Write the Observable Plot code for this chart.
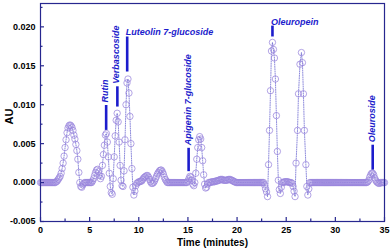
<!DOCTYPE html>
<html>
<head>
<meta charset="utf-8">
<script src="https://cdn.jsdelivr.net/npm/d3@7"></script>
<script src="https://cdn.jsdelivr.net/npm/@observablehq/plot@0.6"></script>
<style>
  html, body { margin: 0; padding: 0; background: #fff; }
  #chart { width: 392px; height: 252px; }
</style>
</head>
<body>
<div id="chart"></div>
<script>
// ---- data (time in minutes, absorbance in AU) ----
const trace = [
  [0,0],[0.1,0],[0.2,0],[0.3,0],[0.4,0],[0.5,0],[0.6,0],[0.7,0],[0.8,0],[0.9,0],[1,0],[1.1,0],[1.2,0],[1.3,0],[1.4,0],[1.5,0],
  [1.6,0.0001],[1.7,0.0002],[1.8,0.0004],[1.9,0.0006],[2,0.0008],[2.1,0.0012],[2.2,0.0018],[2.3,0.0025],[2.4,0.0034],[2.5,0.0045],
  [2.6,0.0055],[2.7,0.0064],[2.8,0.007],[2.9,0.0073],[3,0.0074],[3.1,0.0073],[3.2,0.0071],[3.3,0.0067],[3.4,0.0061],[3.5,0.0056],
  [3.6,0.0049],[3.7,0.0041],[3.8,0.003],[3.9,0.0013],[4,0],[4.1,-0.0005],[4.2,-0.0006],[4.3,-0.0003],[4.4,-0.0001],
  [4.5,0],[4.6,0],[4.7,0],[4.8,0],[4.9,0],[5,0],[5.1,0],
  [5.2,0],[5.3,0.0002],[5.4,0.0005],[5.5,0.0009],[5.6,0.0013],[5.7,0.0016],[5.8,0.0017],[5.9,0.0014],[6,0.0009],[6.1,0.0005],
  [6.2,0.0008],[6.3,0.0022],[6.4,0.0036],[6.5,0.0048],[6.6,0.0061],[6.7,0.0063],[6.8,0.0052],[6.9,0.0033],[7,0.0012],[7.1,-0.0005],
  [7.2,-0.0013],[7.3,-0.0015],[7.4,0.0005],[7.5,0.0033],[7.6,0.006],[7.7,0.008],[7.8,0.0089],[7.9,0.0078],[8,0.0052],[8.1,0.0022],
  [8.2,0.0003],[8.3,-0.0004],[8.4,-0.0005],[8.5,0.0015],[8.6,0.0055],[8.7,0.01],[8.8,0.0128],[8.9,0.0133],[9,0.0115],[9.1,0.0085],
  [9.2,0.005],[9.3,0.0018],[9.4,-0.0006],[9.5,-0.0016],[9.6,-0.0011],[9.7,-0.0004],
  [9.8,-0.0001],[9.9,0],[10,0.0001],[10.1,0.0001],[10.2,0.0002],[10.3,0.0002],[10.4,0.0004],[10.5,0.0006],[10.6,0.0007],[10.7,0.0008],
  [10.8,0.0009],[10.9,0.0009],[11,0.0007],[11.1,0.0004],[11.2,0.0001],[11.3,-0.0001],[11.4,-0.0001],[11.5,0],[11.6,0.0002],[11.7,0.0005],
  [11.8,0.0008],[11.9,0.0011],[12,0.0013],[12.1,0.0015],[12.2,0.0016],[12.3,0.0016],[12.4,0.0014],[12.5,0.0011],[12.6,0.0007],[12.7,0.0004],
  [12.8,0.0002],[12.9,0],
  [13,0],[13.1,0],[13.2,0],[13.3,0],[13.4,0],[13.5,0],[13.6,0],[13.7,0],[13.8,0],[13.9,0],[14,0],[14.1,0],[14.2,0],[14.3,0],[14.4,0],
  [14.5,0],[14.6,0],[14.7,0],[14.8,0],[14.9,0],
  [15,0.0002],[15.1,0.0005],[15.2,0.0008],[15.3,0.0007],[15.4,0.0003],[15.5,-0.0002],[15.6,-0.0004],[15.7,0],[15.8,0.0012],[15.9,0.003],
  [16,0.0045],[16.1,0.0055],[16.2,0.0059],[16.3,0.0056],[16.4,0.0045],[16.5,0.0028],[16.6,0.001],[16.7,-0.0002],[16.8,-0.0007],[16.9,-0.0006],
  [17,-0.0002],[17.1,0],
  [17.2,0],[17.3,0],[17.4,0.0001],[17.5,0.0001],[17.6,0.0001],[17.7,0.0001],[17.8,0.0002],[17.9,0.0002],[18,0.0002],[18.1,0.0003],
  [18.2,0.0003],[18.3,0.0004],[18.4,0.0004],[18.5,0.0004],[18.6,0.0003],[18.7,0.0003],[18.8,0.0003],[18.9,0.0003],[19,0.0003],[19.1,0.0004],
  [19.2,0.0004],[19.3,0.0004],[19.4,0.0003],[19.5,0.0003],[19.6,0.0002],[19.7,0.0001],[19.8,0.0001],[19.9,0],
  [20,0],[20.1,0],[20.2,0],[20.3,0],[20.4,0],[20.5,0],[20.6,0],[20.7,0],[20.8,0],[20.9,0],[21,0],[21.1,0],[21.2,0],[21.3,0],[21.4,0],
  [21.5,0],[21.6,0],[21.7,0],[21.8,0],[21.9,0],[22,0],[22.1,0],[22.2,0],[22.3,0],[22.4,0],[22.5,0],[22.6,0],[22.7,0],
  [22.8,-0.0003],[22.9,-0.0008],[23,-0.0012],[23.1,-0.0018],[23.2,0.0023],[23.3,0.0067],[23.4,0.0118],[23.5,0.0169],[23.6,0.018],
  [23.7,0.0171],[23.8,0.016],[23.9,0.0133],[24,0.0086],[24.1,0.004],[24.2,0.0003],[24.3,-0.0009],[24.4,-0.0014],[24.5,-0.0006],
  [24.6,0],[24.7,0],[24.8,0.0001],[24.9,0.0001],[25,0.0001],[25.1,0.0001],[25.2,0.0001],[25.3,0],[25.4,0],[25.5,0],
  [25.6,-0.0001],[25.7,-0.0005],[25.8,-0.0011],[25.9,-0.0018],[26,0.0025],[26.15,0.0067],[26.25,0.0114],[26.4,0.0152],[26.55,0.0167],
  [26.65,0.0154],[26.75,0.0114],[26.85,0.0067],[27,0.0023],[27.1,-0.0005],[27.2,-0.0016],[27.3,-0.0008],[27.4,0],
  [27.5,0],[27.6,0],[27.7,0],[27.8,0],[27.9,0],[28,0],[28.1,0],[28.2,0],[28.3,0],[28.4,0],[28.5,0],[28.6,0],[28.7,0],[28.8,0],[28.9,0],
  [29,0],[29.1,0],[29.2,0],[29.3,0],[29.4,0],[29.5,0],[29.6,0],[29.7,0],[29.8,0],[29.9,0],[30,0],[30.1,0],[30.2,0],[30.3,0],[30.4,0],
  [30.5,0],[30.6,0],[30.7,0],[30.8,0],[30.9,0],[31,0],[31.1,0],[31.2,0],[31.3,0],[31.4,0],[31.5,0],[31.6,0],[31.7,0],[31.8,0],[31.9,0],
  [32,0],[32.1,0],[32.2,0],[32.3,0],[32.4,0],[32.5,0],[32.6,0],[32.7,0],[32.8,0],[32.9,0],[33,0],[33.1,0],[33.2,0],
  [33.3,0.0001],[33.4,0.0003],[33.5,0.0007],[33.6,0.001],[33.7,0.0012],[33.8,0.0012],[33.9,0.001],[34,0.0006],[34.1,0.0003],[34.2,0.0001],
  [34.3,0],[34.4,-0.0001],[34.5,-0.0001],[34.6,0],[34.7,0],[34.8,0],[34.9,0],[35,0]
];

const peakNames = ["Rutin", "Verbascoside", "Luteolin 7-glucoside", "Apigenin 7-glucoside", "Oleuropein", "Oleuroside"];
const peakTimes = [6.68, 7.82, 8.82, 15.07, 23.6, 33.8];
const barLow    = [0.0067, 0.0097, 0.0142, 0.0014, 0.0187, 0.0016];
const barHigh   = [0.0099, 0.0123, 0.0187, 0.0044, 0.0201, 0.0048];

const xTicks = [0, 5, 10, 15, 20, 25, 30, 35];
const xMinorTicks = [2.5, 7.5, 12.5, 17.5, 22.5, 27.5, 32.5];
const yTicks = [-0.005, 0.000, 0.005, 0.010, 0.015, 0.020];
const yMinorTicks = [-0.0025, 0.0025, 0.0075, 0.0125, 0.0175, 0.0225];

const xTitle = "Time (minutes)";
const yTitle = "AU";

// ---- build ----
const points = trace.map(([t, v]) => ({t, v}));
const peaks = peakNames.map((name, i) => ({name, t: peakTimes[i], lo: barLow[i], hi: barHigh[i]}));
const horizontal = new Set(["Luteolin 7-glucoside", "Oleuropein"]);
const vPeaks = peaks.filter(d => !horizontal.has(d.name));
const hPeaks = peaks.filter(d => horizontal.has(d.name));

const W = 392, H = 252, mL = 40, mR = 8, mT = 3, mB = 31;
const innerW = W - mL - mR, innerH = H - mT - mB;
const axisColor = "#27278f";
const labelBlue = "#1c1ccc";

const chart = Plot.plot({
  width: W, height: H,
  marginLeft: mL, marginRight: mR, marginTop: mT, marginBottom: mB,
  style: {fontFamily: "'Liberation Sans', Arial, sans-serif", fontSize: "9px", fontWeight: "bold", background: "#fff", color: "#000"},
  x: {domain: [0, 35]},
  y: {domain: [-0.005, 0.023]},
  marks: [
    // data
    Plot.line(points, {x: "t", y: "v", stroke: "#5c58cc", strokeWidth: 0.7, strokeDasharray: "1,1.3"}),
    Plot.dot(points, {x: "t", y: "v", r: 3.2, stroke: "#9a86dc", strokeWidth: 0.75, fill: "none"}),
    // annotations
    Plot.ruleX(peaks, {x: "t", y1: "lo", y2: "hi", stroke: labelBlue, strokeWidth: 2.6}),
    Plot.text(vPeaks, {x: "t", y: "hi", text: "name", rotate: -90, textAnchor: "start", lineAnchor: "middle",
      dx: -1, dy: -3, fill: labelBlue, fontStyle: "italic", fontWeight: "bold", fontSize: 9}),
    Plot.text(hPeaks, {x: "t", y: "hi", text: "name", textAnchor: "start", lineAnchor: "bottom",
      dx: -1.5, dy: -1.5, fill: labelBlue, fontStyle: "italic", fontWeight: "bold", fontSize: 9}),
    // frame and inward ticks
    Plot.frame({stroke: axisColor, strokeWidth: 1.2}),
    Plot.tickX(xTicks, {x: d => d, insetTop: innerH - 4, stroke: axisColor, strokeWidth: 1.2}),
    Plot.tickX(xMinorTicks, {x: d => d, insetTop: innerH - 2.5, stroke: axisColor, strokeWidth: 1.2}),
    Plot.tickY(yTicks, {y: d => d, insetRight: innerW - 4, stroke: axisColor, strokeWidth: 1.2}),
    Plot.tickY(yMinorTicks, {y: d => d, insetRight: innerW - 2.5, stroke: axisColor, strokeWidth: 1.2}),
    // tick labels
    Plot.axisX({ticks: xTicks, tickSize: 0, tickPadding: 5, label: null, tickFormat: d => String(d), fill: "#000"}),
    Plot.axisY({ticks: yTicks, tickSize: 0, tickPadding: 5, label: null, tickFormat: d => d.toFixed(3), fill: "#000"}),
    // axis titles
    Plot.text([xTitle], {text: d => d, frameAnchor: "bottom", dy: 24, fontSize: 10, fontWeight: "bold", fill: "#000"}),
    Plot.text([yTitle], {text: d => d, frameAnchor: "left", rotate: -90, dx: -31, dy: 12, fontSize: 11, fontWeight: "bold", fill: "#000"})
  ]
});
document.getElementById("chart").appendChild(chart);
</script>
</body>
</html>
